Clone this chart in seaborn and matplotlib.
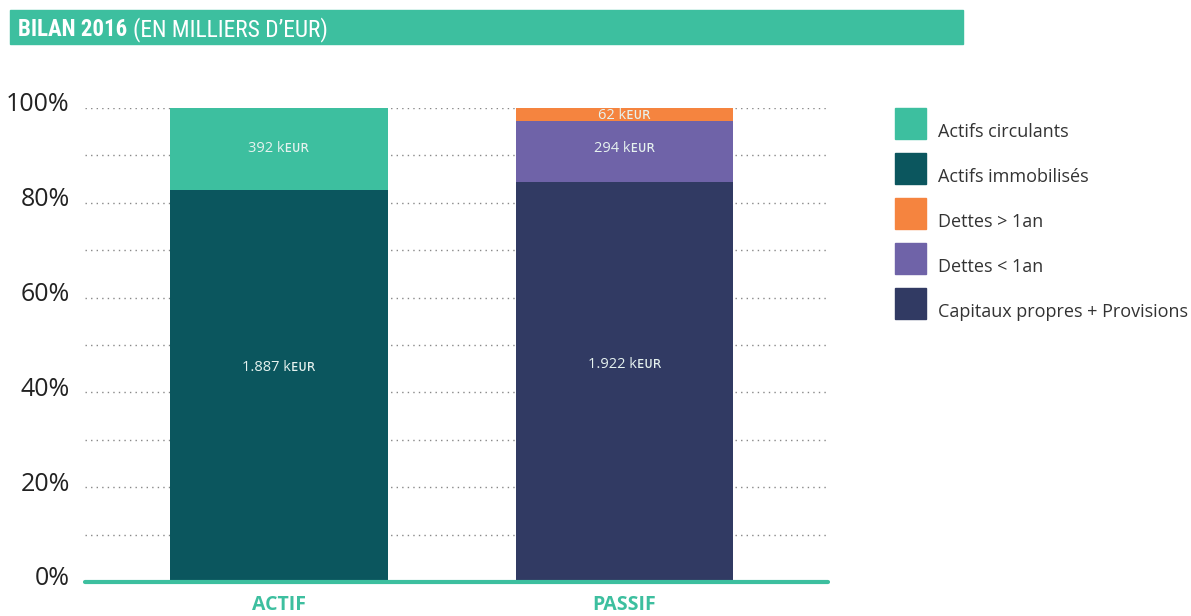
import matplotlib
matplotlib.use("Agg")
import matplotlib.pyplot as plt
import seaborn as sns
import pandas as pd
from matplotlib.patches import Rectangle

# ---- data ----
categories = ["ACTIF", "PASSIF"]
series_names = ["Actifs immobilisés", "Capitaux propres + Provisions",
                "Dettes < 1an", "Dettes > 1an", "Actifs circulants"]  # bottom -> top
actifs_immobilises = [1887, 0]
capitaux_provisions = [0, 1922]
dettes_moins_1an = [0, 294]
dettes_plus_1an = [0, 62]
actifs_circulants = [392, 0]
value_labels = {"Actifs immobilisés": ["1.887", None],
                "Capitaux propres + Provisions": [None, "1.922"],
                "Dettes < 1an": [None, "294"],
                "Dettes > 1an": [None, "62"],
                "Actifs circulants": ["392", None]}
legend_order = ["Actifs circulants", "Actifs immobilisés", "Dettes > 1an",
                "Dettes < 1an", "Capitaux propres + Provisions"]
yticks = [0, 20, 40, 60, 80, 100]

colors = {"Actifs circulants": "#3dbf9f",
          "Actifs immobilisés": "#0b565e",
          "Dettes > 1an": "#f5843f",
          "Dettes < 1an": "#6f63a8",
          "Capitaux propres + Provisions": "#313a63"}
green = "#3dbf9f"

values = [actifs_immobilises, capitaux_provisions, dettes_moins_1an,
          dettes_plus_1an, actifs_circulants]
totals = [sum(v[i] for v in values) for i in range(len(categories))]

rows = []
cum = [0.0] * len(categories)
for name, vals in zip(series_names, values):
    for i, c in enumerate(categories):
        if vals[i] > 0:
            pct = vals[i] / totals[i] * 100
            rows.append(dict(category=c, series=name, bottom=cum[i], top=cum[i] + pct,
                             label=value_labels[name][i]))
            cum[i] += pct
df = pd.DataFrame(rows)

sns.set_theme(style="white")
plt.rcParams["font.family"] = ["Open Sans", "DejaVu Sans"]

fig = plt.figure(figsize=(11.91, 6.16), dpi=100)
W, H = 1191, 616
ax = fig.add_axes([85 / W, 1 - 582 / H, (828 - 85) / W, (582 - 108) / H])

# draw from top layer down so lower layers cover
for name in reversed(series_names):
    sub = df[df["series"] == name]
    if sub.empty:
        continue
    sns.barplot(data=sub, x="category", y="top", order=categories, color=colors[name],
                width=0.63, saturation=1, ax=ax, linewidth=0, zorder=3)

for _, r in df.iterrows():
    xi = categories.index(r["category"])
    ymid = (r["bottom"] + r["top"]) / 2
    if r["bottom"] == 0:
        ymid += 3.8
    elif r["series"] == "Dettes > 1an":
        ymid = r["bottom"] + (r["top"] - r["bottom"]) * 0.4
    elif r["series"] == "Dettes < 1an":
        ymid += 0.6
    ax.text(xi, ymid, f"{r['label']} kᴇᴜʀ", ha="center", va="center",
            color="#e6f2ef", fontsize=10.5, zorder=5,
            family=["Open Sans", "DejaVu Sans"])

ax.set_xlim(-0.5615, 1.589)
ax.set_ylim(0, 100)
ax.set_yticks(yticks)
ax.set_yticklabels([])
for t in yticks:
    ax.annotate(f"{t}%", xy=(0, t), xycoords=("axes fraction", "data"),
                xytext=(-11, -2.5), textcoords="offset points",
                ha="right", va="baseline", fontsize=18, color="#222222")
for g in range(10, 101, 10):
    ax.axhline(g, color="#888888", linestyle=(0, (1, 3)), linewidth=1, zorder=1)
ax.axhline(0, color=green, linewidth=3, zorder=4, clip_on=False)
ax.set_xlabel("")
ax.set_ylabel("")
ax.set_xticks(range(len(categories)))
ax.set_xticklabels(categories, fontsize=14, fontweight="bold", color=green)
ax.tick_params(axis="x", pad=9, length=0)
ax.tick_params(axis="y", length=0)
for s in ax.spines.values():
    s.set_visible(False)

# title banner
fig.patches.append(Rectangle((10 / W, 1 - 44 / H), (963 - 10) / W, 34 / H,
                             transform=fig.transFigure, color=green, zorder=0))
title_font = ["Roboto Condensed", "Open Sans Condensed", "Liberation Sans Narrow",
              "Roboto", "DejaVu Sans"]
t1 = fig.text(18 / W, 1 - 36 / H, "BILAN 2016", color="white", fontsize=19,
              fontweight="bold", va="baseline", ha="left", fontstretch="condensed",
              family=title_font)
t2 = fig.text(133 / W, 1 - 36 / H, "(EN MILLIERS D’EUR)", color="white",
              fontsize=19, va="baseline", ha="left", fontstretch="condensed",
              family=title_font)
fig.canvas.draw()
r = fig.canvas.get_renderer()
w1 = t1.get_window_extent(r).width
t1.set_fontsize(min(19, 19 * 109 / w1))
w2 = t2.get_window_extent(r).width
t2.set_fontsize(min(19, 19 * 195 / w2))
fig.canvas.draw()
bb = t1.get_window_extent(r)
t2.set_x((bb.x1 + 6) / W)

# legend
for k, name in enumerate(legend_order):
    y0 = 108 + k * 45
    fig.patches.append(Rectangle((895 / W, 1 - (y0 + 31) / H), 31 / W, 31 / H,
                                 transform=fig.transFigure, color=colors[name]))
    fig.text(938 / W, 1 - (y0 + 24) / H, name, fontsize=13, color="#333333",
             va="center", ha="left")

fig.savefig("out.png", dpi=100)
